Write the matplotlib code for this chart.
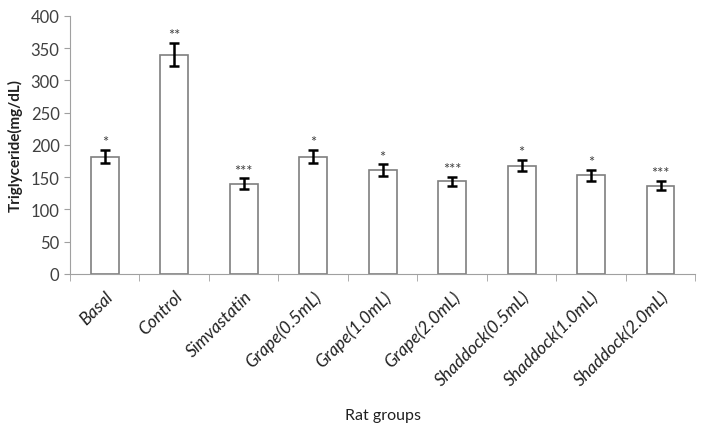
import numpy as np
import matplotlib.pyplot as plt

plt.rcParams['font.family'] = ['Lato', 'DejaVu Sans']

groups = ["Basal", "Control", "Simvastatin", "Grape(0.5mL)", "Grape(1.0mL)",
          "Grape(2.0mL)", "Shaddock(0.5mL)", "Shaddock(1.0mL)", "Shaddock(2.0mL)"]
values = [182, 340, 140, 182, 161, 144, 168, 153, 137]
errors = [10, 18, 8, 10, 9, 7, 8.5, 8.5, 7.5]
stars = ["*", "**", "***", "*", "*", "***", "*", "*", "***"]

fig = plt.figure(figsize=(7.05, 4.35), dpi=100)
ax = fig.add_axes([0.0993, 0.368, 0.887, 0.593])

x = np.arange(len(groups))
ax.bar(x, values, width=0.4, color="white", edgecolor="#7f7f7f", linewidth=1.2, zorder=2)
ax.errorbar(x, values, yerr=errors, fmt="none", ecolor="black", elinewidth=1.8,
            capsize=3.3, capthick=1.8, zorder=3)
for xi, v, e, s in zip(x, values, errors, stars):
    ax.text(xi, v + e + 1, s, ha="center", va="bottom", fontsize=10.5, color="#404040")

ax.set_xlim(-0.5, len(groups) - 0.5)
ax.set_ylim(0, 400)
ax.set_yticks(range(0, 401, 50))
ax.tick_params(axis="y", labelsize=12, labelcolor="#404040", color="#a0a0a0", length=4)

ax.set_xticks(x)
ax.set_xticklabels(groups, rotation=45, ha="right", rotation_mode="anchor",
                   fontsize=12.5, style="italic", color="#202020")
ax.tick_params(axis="x", length=0, pad=10)
ax.set_xticks(np.arange(-0.5, len(groups), 1), minor=True)
ax.tick_params(axis="x", which="minor", length=5, color="#a0a0a0")

for side in ["top", "right"]:
    ax.spines[side].set_visible(False)
for side in ["left", "bottom"]:
    ax.spines[side].set_color("#a0a0a0")

ax.set_ylabel("Triglyceride(mg/dL)", fontsize=11, fontweight="bold", color="#202020", labelpad=6)
ax.set_xlabel("Rat groups", fontsize=11.5, color="#202020", labelpad=14)

fig.savefig("out.png", dpi=100)
